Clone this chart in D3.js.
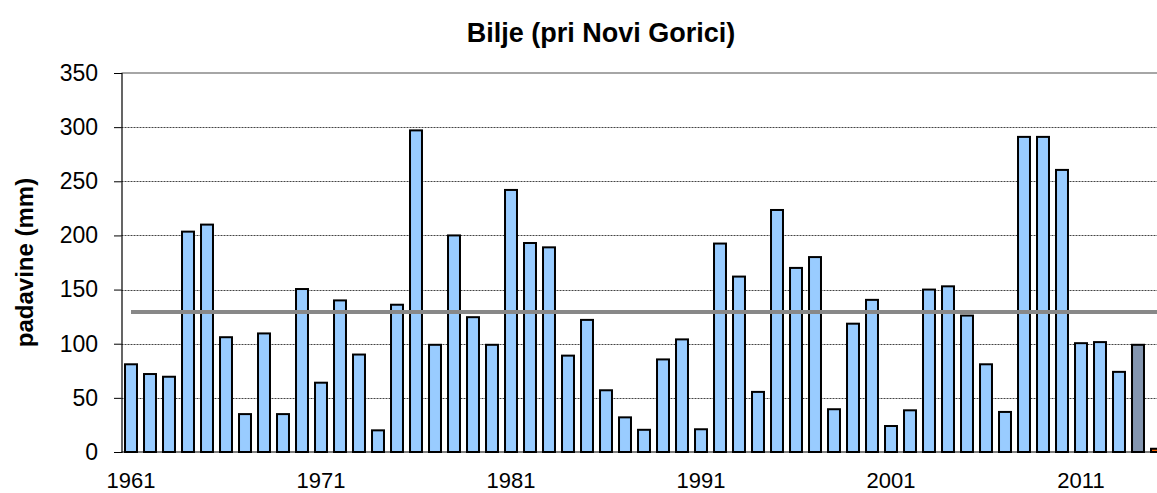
<!DOCTYPE html>
<html>
<head>
<meta charset="utf-8">
<script src="https://cdn.jsdelivr.net/npm/d3@7"></script>
<style>
  body { margin: 0; background: #fff; }
  svg { display: block; font-family: "Liberation Sans", Arial, sans-serif; }
</style>
</head>
<body>
<svg id="chart" width="1157" height="493"></svg>
<script>
// padavine po letih, Bilje
var years = d3.range(1961, 2016);
var rain = [81, 72, 69.5, 203.5, 210, 106, 35, 109.5, 35, 150.5,
            64, 140, 90, 20, 136, 297, 99, 200, 124.5, 99,
            242, 193, 189, 89, 122, 57, 32, 20.5, 85.5, 104,
            21, 192.5, 162, 55.5, 223.5, 170, 180, 39.5, 118.5, 140.5,
            24, 38.5, 150, 153, 126, 81, 37, 291, 291, 260.5,
            100.5, 101.5, 74, 99, 3];
var mean = 129.3;
var yTicks = [0, 50, 100, 150, 200, 250, 300, 350];
var xLabels = [1961, 1971, 1981, 1991, 2001, 2011];

var svg = d3.select("#chart");
var left = 121.5, plotTop = 73, bottom = 452;
var step = 19;

var x = d3.scaleBand()
    .domain(years)
    .range([left, left + years.length * step])
    .paddingInner(0.37)
    .paddingOuter(0.185);

var y = d3.scaleLinear().domain([0, 350]).range([bottom, plotTop]);

// grid
svg.append("g").selectAll("line")
    .data(yTicks.filter(d => d > 0 && d < 350))
    .enter().append("line")
    .attr("x1", left).attr("x2", 1157)
    .attr("y1", d => Math.round(y(d)) + 0.5).attr("y2", d => Math.round(y(d)) + 0.5)
    .attr("stroke", "#444")
    .attr("stroke-width", 1)
    .attr("stroke-dasharray", "2,1");

svg.append("line")
    .attr("x1", left).attr("x2", 1157)
    .attr("y1", y(350)).attr("y2", y(350))
    .attr("stroke", "#888").attr("stroke-width", 1.5);

// bars
function barColor(d) {
    if (d.year === 2014) return "#8496b0";
    if (d.year === 2015) return "#ff6600";
    return "#99ccff";
}
var data = years.map((yr, i) => ({year: yr, val: rain[i]}));
svg.append("g").selectAll("rect")
    .data(data)
    .enter().append("rect")
    .attr("x", d => x(d.year))
    .attr("y", d => y(d.val))
    .attr("width", x.bandwidth())
    .attr("height", d => bottom - y(d.val))
    .attr("fill", barColor)
    .attr("stroke", "#000")
    .attr("stroke-width", 2);

// povprecje
svg.append("line")
    .attr("x1", x(1961) + x.bandwidth() / 2)
    .attr("x2", 1157)
    .attr("y1", y(mean)).attr("y2", y(mean))
    .attr("stroke", "#888")
    .attr("stroke-width", 4);

// y axis
var yAxis = d3.axisLeft(y).tickValues(yTicks).tickSize(7.5).tickPadding(16);
var gy = svg.append("g")
    .attr("transform", "translate(" + left + ",0)")
    .call(yAxis);
gy.select(".domain").attr("stroke", "#000").attr("stroke-width", 1.2);
gy.selectAll(".tick line").attr("stroke", "#000");
gy.selectAll("text")
    .attr("font-size", 23)
    .attr("font-family", "Liberation Sans, Arial, sans-serif")
    .attr("fill", "#000");

// x axis
svg.append("line")
    .attr("x1", left).attr("x2", 1157)
    .attr("y1", bottom).attr("y2", bottom)
    .attr("stroke", "#000").attr("stroke-width", 1.2);

svg.append("g").selectAll("text")
    .data(xLabels)
    .enter().append("text")
    .attr("x", d => x(d) + x.bandwidth() / 2)
    .attr("y", 488)
    .attr("text-anchor", "middle")
    .attr("font-size", 22)
    .text(d => d);

// title
svg.append("text")
    .attr("x", 601)
    .attr("y", 41.5)
    .attr("text-anchor", "middle")
    .attr("font-size", 27)
    .attr("font-weight", "bold")
    .text("Bilje (pri Novi Gorici)");

svg.append("text")
    .attr("transform", "translate(33," + ((plotTop + bottom) / 2) + ") rotate(-90)")
    .attr("text-anchor", "middle")
    .attr("font-size", 24)
    .attr("font-weight", "bold")
    .text("padavine (mm)");
</script>
</body>
</html>
